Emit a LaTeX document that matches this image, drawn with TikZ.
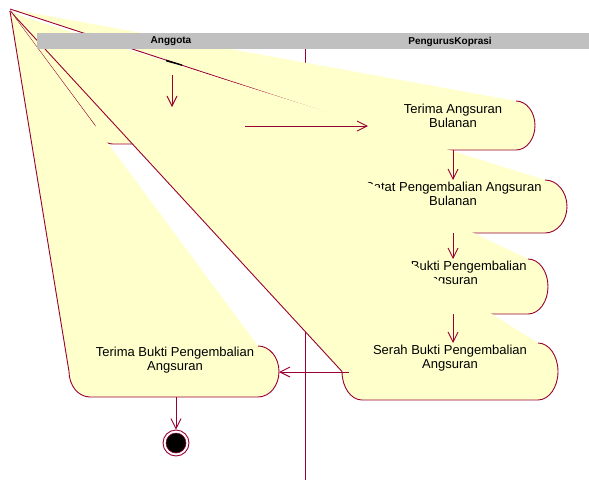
\documentclass[tikz,border=0pt]{standalone}
\usepackage{fontspec}
\setmainfont{Liberation Sans}
\usetikzlibrary{arrows.meta}
\definecolor{rosered}{RGB}{153,0,51}
\definecolor{roseyel}{RGB}{255,255,204}
\definecolor{rosegray}{RGB}{192,192,192}
% #1 apex y, #2 L, #3 T, #4 R, #5 B, #6 rx
\newcommand{\brokenact}[6]{%
  \pgfmathsetmacro\aL{#2}\pgfmathsetmacro\aT{#3}%
  \pgfmathsetmacro\aR{#4}\pgfmathsetmacro\aB{#5}%
  \pgfmathsetmacro\acy{(#3+#5)/2}%
  \pgfmathsetmacro\ary{(#5-#3)/2}%
  \pgfmathsetmacro\akx{0.5523*#6}%
  \pgfmathsetmacro\aky{0.5523*\ary}%
  \pgfmathsetmacro\aBL{#2+#6}%
  \pgfmathsetmacro\aBR{#4-#6}%
  \pgfmathsetmacro\cyd{\acy+\aky}%
  \pgfmathsetmacro\cyu{\acy-\aky}%
  \pgfmathsetmacro\xa{#2+#6-\akx}%
  \pgfmathsetmacro\xb{#4-#6+\akx}%
  \coordinate (ap) at (10,#1);
  \fill[roseyel] (ap) -- (\aL,\acy) .. controls (\aL,\cyd) and (\xa,\aB) .. (\aBL,\aB)
    -- (\aBR,\aB) .. controls (\xb,\aB) and (\aR,\cyd) .. (\aR,\acy)
    .. controls (\aR,\cyu) and (\xb,\aT) .. (\aBR,\aT) -- cycle;
  \draw[actline] (ap) -- (\aL,\acy) .. controls (\aL,\cyd) and (\xa,\aB) .. (\aBL,\aB)
    -- (\aBR,\aB) .. controls (\xb,\aB) and (\aR,\cyd) .. (\aR,\acy)
    .. controls (\aR,\cyu) and (\xb,\aT) .. (\aBR,\aT);
}
\begin{document}
\begin{tikzpicture}[x=1pt,y=-1pt,
  actline/.style={draw=rosered,line width=0.9pt,line join=round},
  flow/.style={draw=rosered,line width=0.9pt,-{Straight Barb[length=10pt,width=10pt]}},
  acttext/.style={font=\fontsize{13}{14}\selectfont,align=center,inner sep=0pt},
  lanetext/.style={font=\fontsize{10}{12}\selectfont\bfseries,inner sep=0pt}]
\useasboundingbox (0,0) rectangle (589,480);
\fill[white] (0,0) rectangle (589,480);
% lane divider
\coordinate (divtop) at (305,49);
\coordinate (divbot) at (305,480);
\draw[rosered,line width=0.9pt] (divtop) -- (divbot);
% first activity (text hidden)
\brokenact{11}{95}{107}{245}{144}{18}
% Terima Angsuran Bulanan
\brokenact{9}{366}{101}{535}{150}{19}
\node[acttext] (ta) at (453,116) {Terima Angsuran\\Bulanan};
% Catat
\brokenact{12.5}{339}{180}{567}{233}{22}
\node[acttext] (catat) at (453,194) {Catat Pengembalian Angsuran\\Bulanan};
% Cetak Bukti
\brokenact{11}{358}{259}{548}{314}{20}
\node[acttext] (cetak) at (450,274) {Cetak Bukti Pengembalian\\Angsuran};
% Serah
\brokenact{11}{342}{343}{558}{400}{20}
\node[acttext] (serah) at (450,358) {Serah Bukti Pengembalian\\Angsuran};
% Terima Bukti
\brokenact{11}{69}{346}{279}{397}{21}
\node[acttext] (tb) at (175,360) {Terima Bukti Pengembalian\\Angsuran};
% start state remnant
\fill[black] (166,59.6) -- (182,64.4) -- (182,65.8) -- (166,61.4) -- cycle;
% transitions
\coordinate (s0) at (172,75);   \coordinate (a1t) at (172,107);
\coordinate (a1r) at (245,126); \coordinate (tal) at (368,126);
\coordinate (tab) at (453,150); \coordinate (cat) at (453,180);
\coordinate (cab) at (453,233); \coordinate (cet) at (453,259);
\coordinate (ceb) at (453,314); \coordinate (set) at (453,343);
\coordinate (sel) at (349,372); \coordinate (tbr) at (279,372);
\coordinate (tbb) at (176,397);
\draw[flow] (s0) -- (a1t);
\draw[flow] (a1r) -- (tal);
\draw[flow] (tab) -- (cat);
\draw[flow] (cab) -- (cet);
\draw[flow] (ceb) -- (set);
\draw[flow] (sel) -- (tbr);
% end state
\node[circle,draw=rosered,fill=white,line width=0.9pt,minimum size=26pt,inner sep=0pt] (endst) at (176,443) {};
\node[circle,draw=rosered,fill=black,line width=0.5pt,minimum size=20pt,inner sep=0pt] (endin) at (endst) {};
\draw[flow] (tbb) -- (endst.north);
% swimlane header
\node[fill=rosegray,anchor=north west,minimum width=552pt,minimum height=16pt,inner sep=0pt] (hdr) at (37,33) {};
\node[lanetext] (laneA) at (171,41.5) {Anggota};
\node[lanetext] (laneB) at (450,41.5) {PengurusKoprasi};
\end{tikzpicture}
\end{document}
